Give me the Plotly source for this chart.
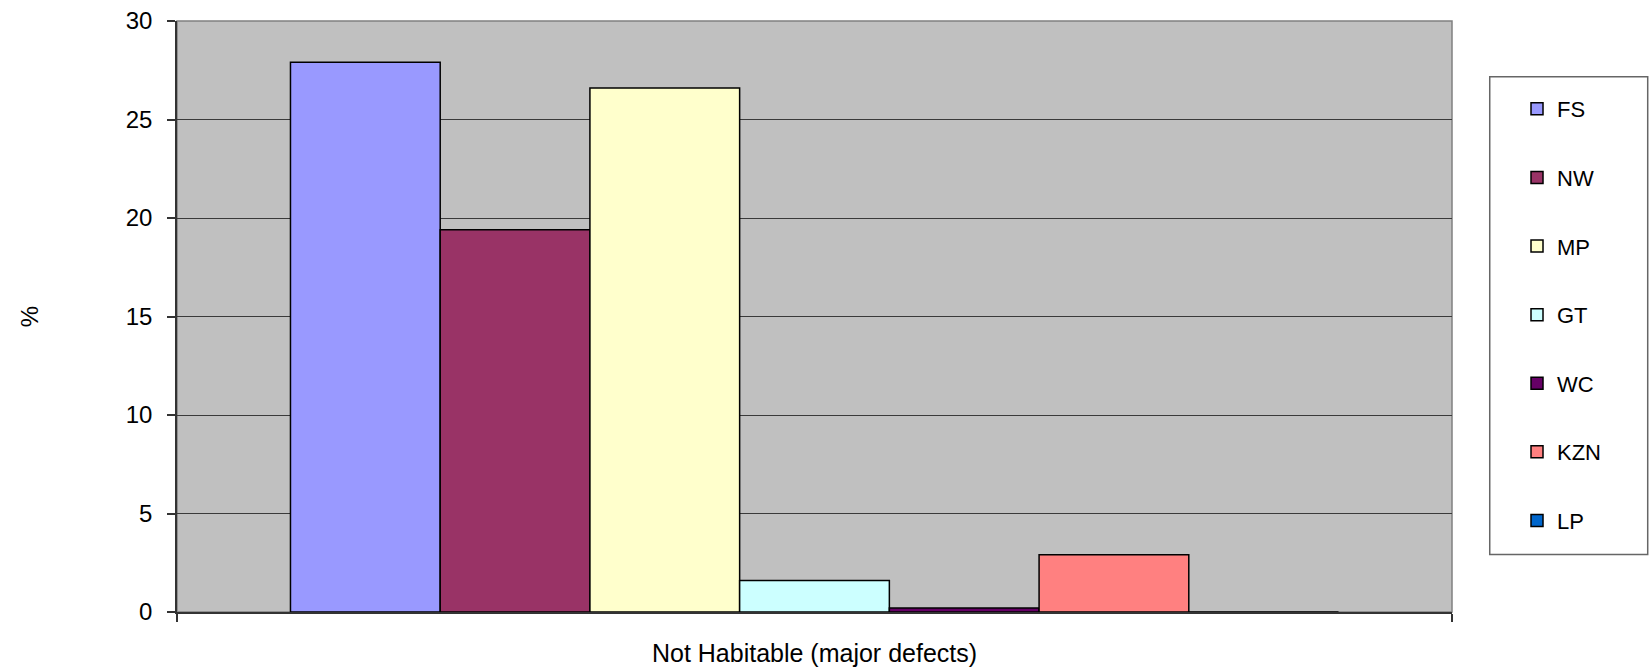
import plotly.graph_objects as go

# Share of dwellings rated "not habitable" (major defects), by province
category = ["Not Habitable (major defects)"]
provinces = ["FS", "NW", "MP", "GT", "WC", "KZN", "LP"]
values = [27.9, 19.4, 26.6, 1.6, 0.2, 2.9, 0.0]
colors = ["#9999FF", "#993366", "#FFFFCC", "#CCFFFF", "#660066", "#FF8080", "#0066CC"]
y_ticks = [0, 5, 10, 15, 20, 25, 30]

FONT = "Liberation Sans, Arial, sans-serif"

fig = go.Figure()
for name, val, col in zip(provinces, values, colors):
    fig.add_trace(go.Bar(
        x=category,
        y=[val],
        name=name,
        legendgroup=name,
        marker=dict(color=col, line=dict(color="#000000", width=1.5)),
    ))

fig.update_layout(
    width=1650,
    height=667,
    margin=dict(l=177, r=198, t=21, b=55, autoexpand=False),
    paper_bgcolor="#FFFFFF",
    plot_bgcolor="#C0C0C0",
    barmode="group",
    bargap=0.178,
    bargroupgap=0,
    font=dict(family=FONT, color="#000000", size=22),
    legend=dict(
        xref="container", yref="container",
        x=0.9194, y=0.868,
        xanchor="left", yanchor="top",
        traceorder="grouped",
        tracegroupgap=37,
        maxheight=620,
        bgcolor="rgba(0,0,0,0)",
        borderwidth=0,
        font=dict(family=FONT, size=22, color="#000000"),
    ),
    showlegend=True,
)

fig.update_xaxes(
    type="category",
    automargin=False,
    tickson="boundaries",
    ticks="outside",
    ticklen=8,
    tickcolor="#333333",
    tickwidth=1.5,
    showline=True,
    linecolor="#333333",
    linewidth=1.5,
    showgrid=False,
    tickfont=dict(family=FONT, size=25, color="#000000"),
    ticklabelstandoff=18,
)

fig.update_yaxes(
    range=[0, 30],
    automargin=False,
    tickvals=y_ticks,
    ticks="outside",
    ticklen=8,
    tickcolor="#333333",
    tickwidth=1.5,
    showline=True,
    linecolor="#333333",
    linewidth=1.5,
    showgrid=True,
    gridcolor="#3a3a3a",
    gridwidth=1,
    zeroline=False,
    tickfont=dict(family=FONT, size=24, color="#000000"),
    ticklabelstandoff=10,
    title=dict(text="%", font=dict(family=FONT, size=24, color="#000000"), standoff=80),
)

# Plot-area frame (top/right edges) and legend box
fig.add_shape(type="rect", xref="paper", yref="paper", x0=0, x1=1, y0=0, y1=1,
              line=dict(color="#808080", width=1.5), layer="below")
fig.add_shape(type="rect", xref="paper", yref="paper", x0=1.0296, x1=1.1535, y0=0.0972, y1=0.9058,
              line=dict(color="#666666", width=1.5), fillcolor="rgba(0,0,0,0)")

fig.write_html("out.html")
